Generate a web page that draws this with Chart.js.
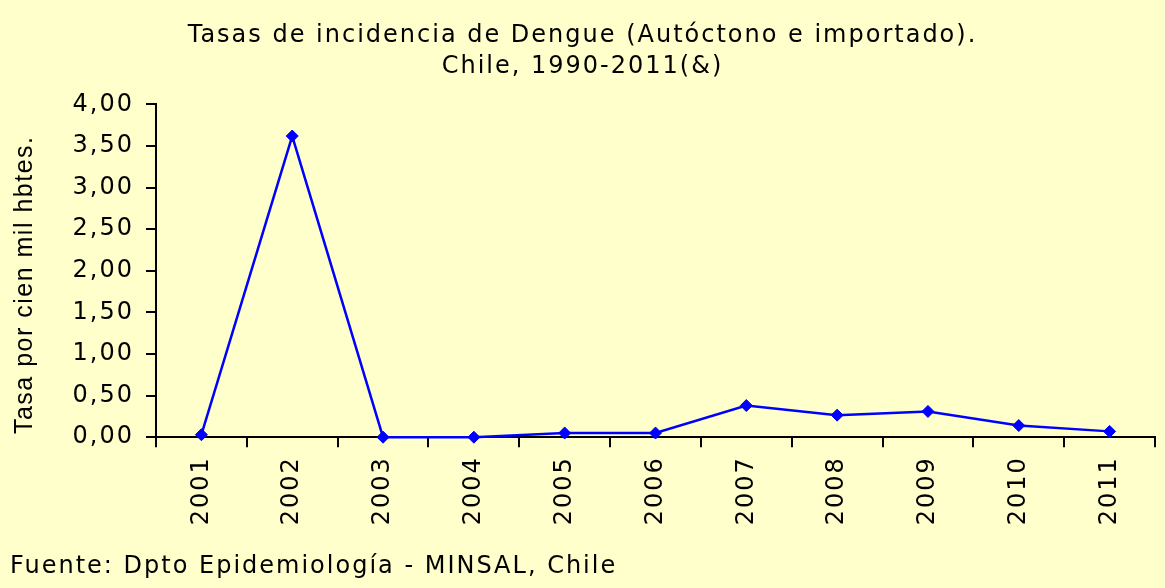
<!DOCTYPE html>
<html lang="es">
<head>
  <meta charset="UTF-8">
  <title>Tasas de incidencia de Dengue</title>
  <script src="https://cdn.jsdelivr.net/npm/chart.js"></script>
  <style>
    html, body { margin: 0; padding: 0; background: #ffffcc; }
    canvas { display: block; }
  </style>
</head>
<body>
  <canvas id="dengueChart" width="1165" height="588"></canvas>

  <script>
    // data
    const years = ['2001', '2002', '2003', '2004', '2005', '2006', '2007', '2008', '2009', '2010', '2011'];
    const rates = [0.03, 3.62, 0.0, 0.0, 0.05, 0.05, 0.38, 0.265, 0.31, 0.14, 0.07];
    const titleLines = ['Tasas de incidencia de Dengue (Autóctono e importado).', 'Chile, 1990-2011(&)'];
    const footerText = 'Fuente: Dpto Epidemiología - MINSAL, Chile';
    const yAxisLabel = 'Tasa por cien mil hbtes.';

    const ink = '#000000';
    const spacing = '2px';

    // wide Verdana-like lettering, canvas state gets reset on resize so set it each pass
    const letterSpacingPlugin = {
      id: 'letterSpacing',
      beforeUpdate(chart) { chart.ctx.letterSpacing = spacing; },
      beforeDraw(chart) { chart.ctx.letterSpacing = spacing; }
    };

    const bgPlugin = {
      id: 'bg',
      beforeDraw(chart) {
        const ctx = chart.ctx;
        ctx.save();
        ctx.fillStyle = '#ffffcc';
        ctx.fillRect(0, 0, chart.width, chart.height);
        ctx.restore();
      }
    };

    Chart.defaults.font.family = "'DejaVu Sans', Verdana, sans-serif";
    Chart.defaults.font.size = 24;
    Chart.defaults.color = ink;

    new Chart(document.getElementById('dengueChart'), {
      type: 'line',
      data: {
        labels: years,
        datasets: [{
          label: 'Tasa',
          data: rates,
          borderColor: '#0000ff',
          backgroundColor: '#0000ff',
          borderWidth: 2.5,
          pointStyle: 'rectRot',
          pointRadius: 6,
          pointBorderWidth: 1,
          tension: 0,
          fill: false,
          clip: false
        }]
      },
      options: {
        responsive: false,
        animation: false,
        layout: { padding: { left: 10, right: 10, top: 0, bottom: 0 } },
        plugins: {
          legend: { display: false },
          tooltip: { enabled: false },
          title: {
            display: true,
            text: titleLines,
            color: ink,
            font: { size: 24, weight: 'normal', lineHeight: 1.3 },
            padding: { top: 20, bottom: 22 }
          },
          subtitle: {
            display: true,
            text: footerText,
            position: 'bottom',
            align: 'start',
            color: ink,
            font: { size: 24, weight: 'normal', lineHeight: 1.2 },
            padding: { top: 0, bottom: 7 }
          }
        },
        scales: {
          x: {
            type: 'category',
            offset: true,
            afterFit(scale) { scale.height = 115; },
            grid: {
              offset: true,
              drawOnChartArea: false,
              drawTicks: true,
              tickLength: 10,
              color: ink,
              lineWidth: 2
            },
            border: { display: true, color: ink, width: 2 },
            ticks: {
              autoSkip: false,
              minRotation: 90,
              maxRotation: 90,
              padding: 9,
              color: ink
            }
          },
          y: {
            min: 0,
            max: 4,
            afterFit(scale) {
              scale.width = 146;
              // the axis title is Arial-like, tighter, and sits a bit lower than centre
              if (!scale._tightTitle) {
                const drawTitle = scale.drawTitle;
                scale.drawTitle = function () {
                  const ctx = this.ctx;
                  ctx.save();
                  ctx.letterSpacing = '1.5px';
                  ctx.translate(0, 14);
                  drawTitle.call(this);
                  ctx.restore();
                };
                scale._tightTitle = true;
              }
            },
            grid: {
              drawOnChartArea: false,
              drawTicks: true,
              tickLength: 10,
              color: ink,
              lineWidth: 2
            },
            border: { display: true, color: ink, width: 2 },
            ticks: {
              stepSize: 0.5,
              padding: 12,
              color: ink,
              callback: v => v.toFixed(2).replace('.', ',')
            },
            title: {
              display: true,
              text: yAxisLabel,
              color: ink,
              font: { family: "'Liberation Sans', Arial, sans-serif", size: 25, weight: 'normal', lineHeight: 1.2 },
              padding: { top: 0, bottom: 0 }
            }
          }
        }
      },
      plugins: [bgPlugin, letterSpacingPlugin]
    });
  </script>
</body>
</html>
